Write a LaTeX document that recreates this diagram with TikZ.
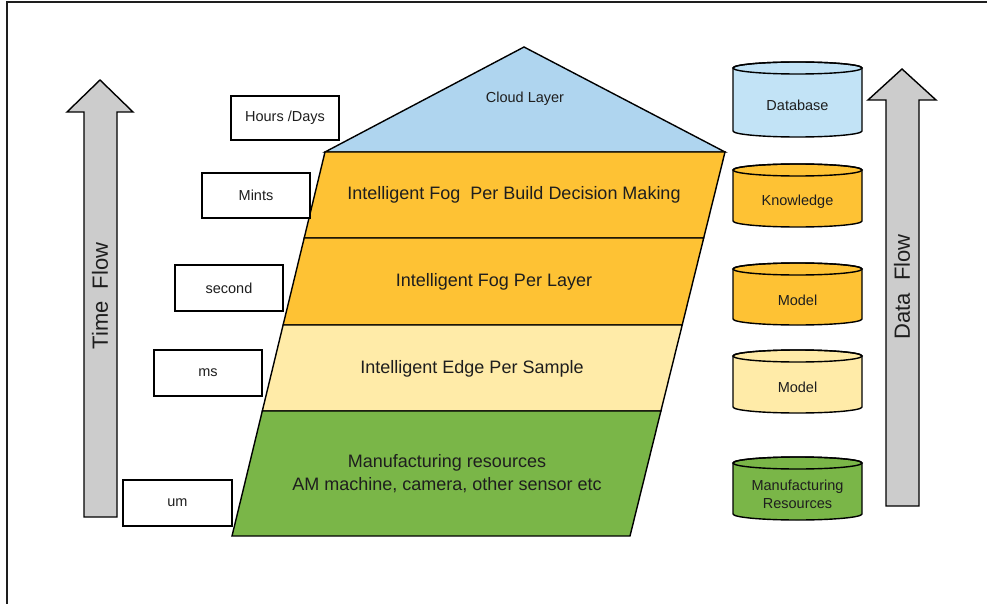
\documentclass[tikz,border=0pt]{standalone}
\usepackage{fontspec}
\setmainfont{Liberation Sans}
\definecolor{cloudblue}{HTML}{AFD5EF}
\definecolor{dbblue}{HTML}{C2E3F6}
\definecolor{fogorange}{HTML}{FEC234}
\definecolor{edgeyellow}{HTML}{FFEBA8}
\definecolor{mfggreen}{HTML}{7AB648}
\definecolor{arrowgray}{HTML}{CCCCCC}
\definecolor{ink}{HTML}{1E1E1E}
\tikzset{
  shapeline/.style={draw=black, line width=1.4pt, line join=miter},
  timebox/.style={draw=black, line width=1.3pt, fill=white, text=ink, font=\fontsize{14.5}{17}\selectfont, inner sep=0pt},
  layertext/.style={text=ink, font=\fontsize{18}{23}\selectfont, align=center, inner sep=0pt},
  cloudtext/.style={text=ink, font=\fontsize{14.5}{17}\selectfont, inner sep=0pt},
  cyltext/.style={text=ink, font=\fontsize{14.5}{18}\selectfont, align=center, inner sep=0pt},
  flowtext/.style={text=ink, font=\fontsize{22}{26}\selectfont, rotate=90, inner sep=0pt},
  bigarrow/.style={shapeline, fill=arrowgray},
}
\newcommand{\dbcyl}[7]{%
  \pgfmathsetmacro\cylcx{(#2+#3)/2}%
  \pgfmathsetmacro\cylrx{(#3-#2)/2}%
  \filldraw[shapeline, fill=#6] (#2,#4+6) -- (#2,#5-6)
     arc[start angle=180, end angle=360, x radius=\cylrx pt, y radius=6pt]
     -- (#3,#4+6)
     arc[start angle=0, end angle=180, x radius=\cylrx pt, y radius=6pt] -- cycle;
  \draw[shapeline] (\cylcx,#4+6) ellipse[x radius=\cylrx pt, y radius=6pt];
  \node[cyltext] (#1) at (\cylcx,{(#4+12+#5)/2}) {#7};
}
\begin{document}
\begin{tikzpicture}[x=1pt,y=-1pt]
\useasboundingbox (0,0) rectangle (987,604);
% frame
\draw[draw=ink, line width=2.4pt] (7,606) -- (7,2) -- (990,2);

% time flow arrow
\filldraw[bigarrow] (84,517) -- (84,112) -- (67,112) -- (100,80) -- (133,112) -- (117,112) -- (117,517) -- cycle;
\node[flowtext] (timeflow) at (100,296) {Time\ \ Flow};

% data flow arrow
\filldraw[bigarrow] (886,506) -- (886,100) -- (868,100) -- (902,69) -- (936,100) -- (919,100) -- (919,506) -- cycle;
\node[flowtext] (dataflow) at (902,287) {Data\ \ Flow};

% pyramid
\filldraw[shapeline, fill=cloudblue] (325,152) -- (524,47) -- (725,152) -- cycle;
\filldraw[shapeline, fill=fogorange] (325,152) -- (725,152) -- (703.7,238) -- (304.2,238) -- cycle;
\filldraw[shapeline, fill=fogorange] (304.2,238) -- (703.7,238) -- (682.2,325) -- (283.1,325) -- cycle;
\filldraw[shapeline, fill=edgeyellow] (283.1,325) -- (682.2,325) -- (660.9,411) -- (262.3,411) -- cycle;
\filldraw[shapeline, fill=mfggreen] (262.3,411) -- (660.9,411) -- (630,536) -- (232,536) -- cycle;

\node[cloudtext] (cloud) at (525,98.5) {Cloud Layer};
\node[layertext] (fogbuild) at (514,195) {Intelligent Fog\ \ Per Build Decision Making};
\node[layertext] (foglayer) at (494,282) {Intelligent Fog Per Layer};
\node[layertext] (edge) at (472,369) {Intelligent Edge Per Sample};
\node[layertext] (mfg) at (447,474) {Manufacturing resources\\AM machine, camera, other sensor etc};

% time boxes
\node[timebox, minimum width=108pt, minimum height=44pt] (hours) at (285,118) {Hours /Days};
\node[timebox, minimum width=108pt, minimum height=45pt] (mints) at (256,195.5) {Mints};
\node[timebox, minimum width=108pt, minimum height=46pt] (second) at (229,288) {second};
\node[timebox, minimum width=108pt, minimum height=46pt] (ms) at (208,373) {ms};
\node[timebox, minimum width=109pt, minimum height=46pt] (um) at (177.5,503) {um};

% cylinders
\dbcyl{database}{733}{862}{62}{137}{dbblue}{Database}
\dbcyl{knowledge}{733}{862}{164}{227}{fogorange}{Knowledge}
\dbcyl{modelA}{733}{862}{263}{325}{fogorange}{Model}
\dbcyl{modelB}{733}{862}{350}{413}{edgeyellow}{Model}
\dbcyl{resources}{733}{862}{457}{520}{mfggreen}{Manufacturing\\Resources}
\end{tikzpicture}
\end{document}
